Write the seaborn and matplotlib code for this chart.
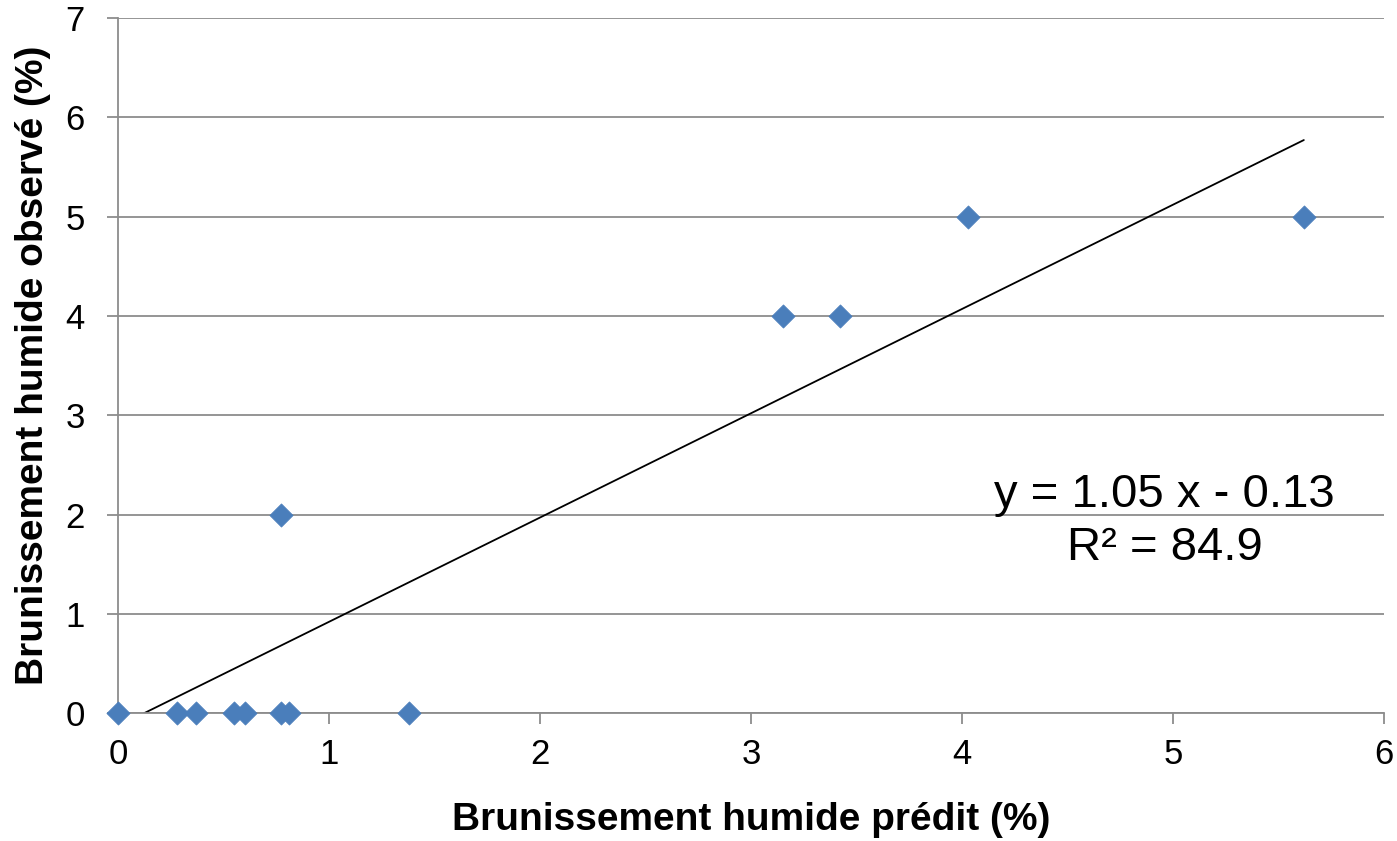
import matplotlib
matplotlib.use("Agg")
import matplotlib.pyplot as plt
import seaborn as sns
import numpy as np
import pandas as pd
from matplotlib import font_manager

predicted = [0.0, 0.28, 0.37, 0.55, 0.60, 0.77, 0.81, 1.38, 0.77, 3.15, 3.42, 4.03, 5.62]
observed = [0, 0, 0, 0, 0, 0, 0, 0, 2, 4, 4, 5, 5]
slope = 1.05
intercept = -0.13
eq_text = "y = 1.05 x - 0.13"
r2_text = "R² = 84.9"
x_ticks = [0, 1, 2, 3, 4, 5, 6]
y_ticks = [0, 1, 2, 3, 4, 5, 6, 7]
xlabel = "Brunissement humide prédit (%)"
ylabel = "Brunissement humide observé (%)"

sns.set_style("white")
names = {f.name for f in font_manager.fontManager.ttflist}
fam = "Liberation Sans Narrow" if "Liberation Sans Narrow" in names else "Liberation Sans"
plt.rcParams['font.family'] = [fam, 'DejaVu Sans']
plt.rcParams['text.color'] = 'black'
plt.rcParams['xtick.color'] = 'black'
plt.rcParams['ytick.color'] = 'black'
plt.rcParams['axes.labelcolor'] = 'black'

df = pd.DataFrame({"pred": predicted, "obs": observed})

fig = plt.figure(figsize=(13.97, 8.41), dpi=100)
ax = fig.add_axes([0.0845, 0.152, 0.9062, 0.8266])
ax.set_xlim(0, 6)
ax.set_ylim(0, 7)
ax.set_yticks(y_ticks)
ax.set_xticks(x_ticks)
ax.grid(axis='y', color='#8c8c8c', linewidth=1.3)
ax.set_axisbelow(True)

xs = np.array([-intercept / slope, max(predicted)])
sns.lineplot(x=xs, y=slope * xs + intercept, ax=ax, color='black', linewidth=1.3)
sns.scatterplot(data=df, x="pred", y="obs", ax=ax, marker='D', s=140,
                color='#4a7ebb', edgecolor='#4a7ebb', linewidth=0.5, zorder=3, clip_on=False)

for s in ['top', 'right']:
    ax.spines[s].set_visible(False)
for s in ['left', 'bottom']:
    ax.spines[s].set_color('#8c8c8c')
    ax.spines[s].set_linewidth(1.3)

ax.tick_params(axis='both', which='major', labelsize=25, length=8, width=1.3,
               color='#8c8c8c', direction='out', bottom=True, left=True)
ax.tick_params(axis='y', pad=16)
ax.tick_params(axis='x', pad=10)
ax.set_xlabel(xlabel, fontsize=28, fontweight='bold', labelpad=22)
ax.set_ylabel(ylabel, fontsize=28, fontweight='bold', labelpad=10)

ax.text(4.96, 2.2, eq_text, fontsize=34, ha='center', va='center')
ax.text(4.96, 1.66, r2_text, fontsize=34, ha='center', va='center')

fig.savefig("out.png", dpi=100)
